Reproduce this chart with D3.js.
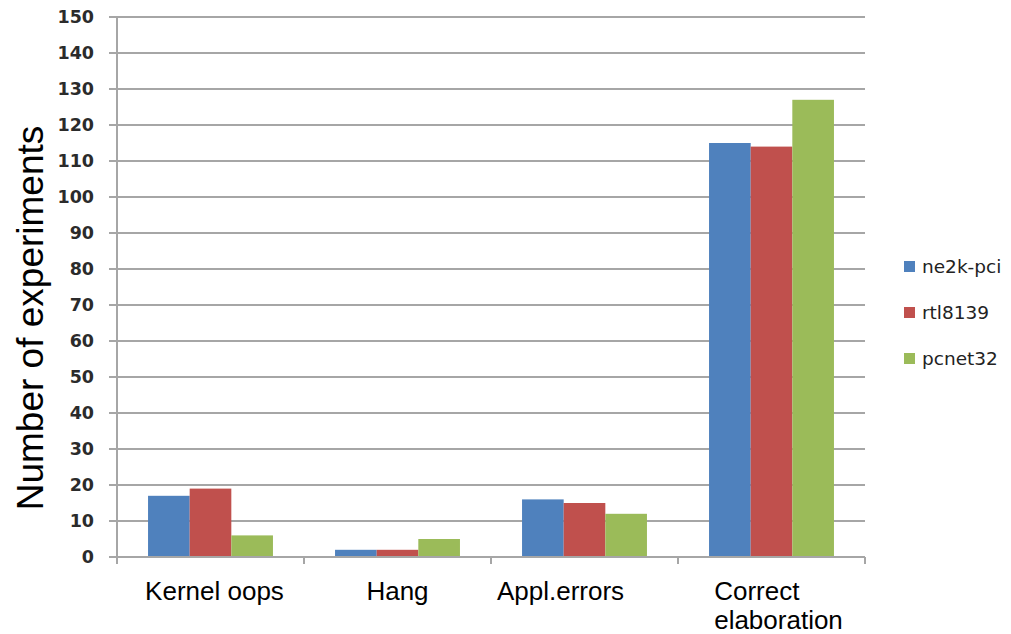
<!DOCTYPE html>
<html>
<head>
<meta charset="utf-8">
<script src="https://cdn.jsdelivr.net/npm/d3@7"></script>
<style>
  html, body { margin: 0; padding: 0; background: #fff; }
  svg { display: block; }
</style>
</head>
<body>
<svg id="chart" width="1011" height="634"></svg>
<script>
const categories = ["Kernel oops", "Hang", "Appl.errors", "Correct elaboration"];
const categoryLines = [["Kernel oops"], ["Hang"], ["Appl.errors"], ["Correct", "elaboration"]];
const seriesNames = ["ne2k-pci", "rtl8139", "pcnet32"];
const ne2kPci = [17, 2, 16, 115];
const rtl8139 = [19, 2, 15, 114];
const pcnet32 = [6, 5, 12, 127];
const yTicks = [0, 10, 20, 30, 40, 50, 60, 70, 80, 90, 100, 110, 120, 130, 140, 150];
const colors = ["#4F81BD", "#C0504D", "#9BBB59"];
const yTitle = "Number of experiments";

(function () {
const seriesValues = [ne2kPci, rtl8139, pcnet32];
const svg = d3.select("#chart");

const plotL = 117, plotR = 865, plotT = 17, plotB = 557;
// small horizontal nudges of the category labels, as placed in the original
const labelNudge = [4, 0, -24, 7];

const x0 = d3.scaleBand().domain(categories).range([plotL, plotR]).padding(0);
const groupPad = x0.bandwidth() * 0.166;
const x1 = d3.scaleBand().domain(seriesNames).range([groupPad, x0.bandwidth() - groupPad]).padding(0);
const y = d3.scaleLinear().domain([0, 150]).range([plotB, plotT]);

// gridlines
svg.append("g")
  .selectAll("line")
  .data(yTicks)
  .join("line")
  .attr("x1", plotL - 8)
  .attr("x2", plotR)
  .attr("y1", d => y(d))
  .attr("y2", d => y(d))
  .attr("stroke", "#a6a6a6")
  .attr("stroke-width", 2);

// y tick labels
svg.append("g")
  .selectAll("text")
  .data(yTicks)
  .join("text")
  .attr("x", 94)
  .attr("y", d => y(d))
  .attr("dy", "0.36em")
  .attr("text-anchor", "end")
  .attr("font-family", "DejaVu Sans")
  .attr("font-weight", "bold")
  .attr("font-size", 17.5)
  .attr("fill", "#2b2b2b")
  .text(d => d);

// bars
const groups = svg.append("g")
  .selectAll("g")
  .data(categories)
  .join("g")
  .attr("transform", d => `translate(${x0(d)},0)`);

groups.selectAll("rect")
  .data((c, ci) => seriesNames.map((s, si) => ({ s, si, v: seriesValues[si][ci] })))
  .join("rect")
  .attr("x", d => x1(d.s))
  .attr("width", x1.bandwidth())
  .attr("y", d => y(d.v))
  .attr("height", d => y(0) - y(d.v))
  .attr("fill", d => colors[d.si]);

// axes lines
svg.append("line")
  .attr("x1", plotL).attr("x2", plotL)
  .attr("y1", plotT).attr("y2", plotB + 7)
  .attr("stroke", "#a6a6a6").attr("stroke-width", 2);

svg.append("line")
  .attr("x1", plotL).attr("x2", plotR)
  .attr("y1", plotB).attr("y2", plotB)
  .attr("stroke", "#a6a6a6").attr("stroke-width", 2);

// category tick marks
const tickXs = categories.map(c => x0(c)).concat([x0(categories[categories.length - 1]) + x0.bandwidth()]);
svg.append("g")
  .selectAll("line")
  .data(tickXs)
  .join("line")
  .attr("x1", d => d).attr("x2", d => d)
  .attr("y1", plotB).attr("y2", plotB + 7)
  .attr("stroke", "#a6a6a6").attr("stroke-width", 2);

// category labels
categories.forEach((c, i) => {
  const lines = categoryLines[i];
  const cx = x0(c) + x0.bandwidth() / 2 + labelNudge[i];
  const t = svg.append("text")
    .attr("font-family", "Liberation Sans, Arial, sans-serif")
    .attr("font-size", 26)
    .attr("fill", "#000");
  lines.forEach((ln, li) => {
    t.append("tspan").attr("x", cx).attr("y", 600 + li * 29).text(ln);
  });
  if (lines.length === 1) {
    t.attr("text-anchor", "middle");
  } else {
    let maxW = 0;
    t.selectAll("tspan").each(function () { maxW = Math.max(maxW, this.getComputedTextLength()); });
    t.selectAll("tspan").attr("x", cx - maxW / 2);
  }
});

// y title
svg.append("text")
  .attr("transform", "translate(43,318) rotate(-90)")
  .attr("text-anchor", "middle")
  .attr("font-family", "Liberation Sans, Arial, sans-serif")
  .attr("font-size", 37)
  .attr("fill", "#000")
  .text(yTitle);

// legend
const legend = svg.append("g")
  .selectAll("g")
  .data(seriesNames)
  .join("g")
  .attr("transform", (d, i) => `translate(904,${267 + i * 46})`);

legend.append("rect")
  .attr("x", 0).attr("y", -6)
  .attr("width", 11).attr("height", 11)
  .attr("fill", (d, i) => colors[i]);

legend.append("text")
  .attr("x", 18)
  .attr("y", 0)
  .attr("dy", "0.35em")
  .attr("font-family", "DejaVu Sans")
  .attr("font-size", 18.5)
  .attr("fill", "#222")
  .text(d => d);
})();
</script>
</body>
</html>
